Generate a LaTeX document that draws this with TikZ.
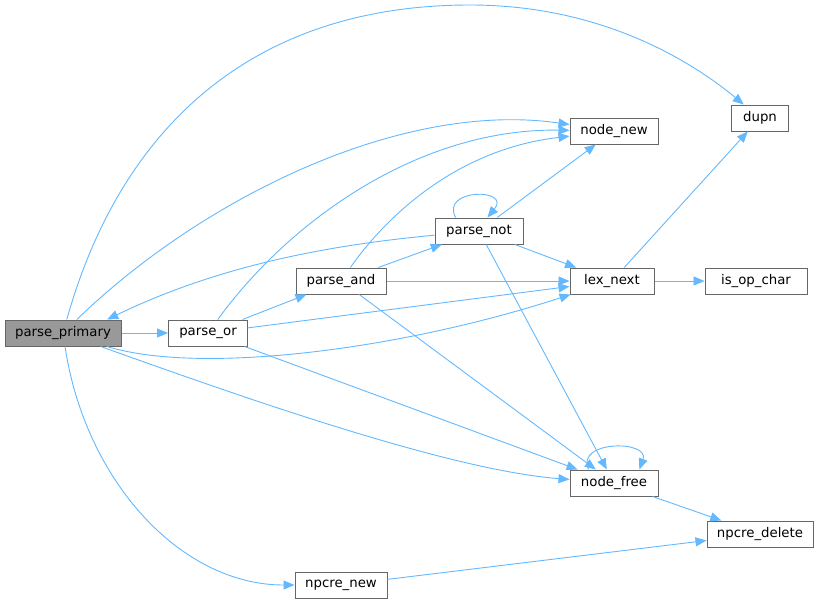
\documentclass[tikz,border=0pt]{standalone}
\usepackage{fontspec}
\setmainfont{DejaVu Sans}
\usetikzlibrary{arrows.meta}
\definecolor{edgeblue}{HTML}{63B8FF}
\definecolor{boxline}{HTML}{666666}
\definecolor{boxfill}{HTML}{999999}
\begin{document}
\begin{tikzpicture}[x=1pt,y=-1pt,
  fn/.style={draw=boxline, fill=white, line width=1pt, minimum height=26,
    inner sep=0pt, font=\fontsize{13.3}{16}\selectfont},
  call/.style={draw=edgeblue, line width=0.9pt,
    -{Triangle[length=11pt,width=9pt]}}]
  \useasboundingbox (0,0) rectangle (819,605);
  % functions
  \node[fn, fill=boxfill, minimum width=116] (pp) at (63,333) {parse\_primary};
  \node[fn, minimum width=79]  (por)      at (208,333) {parse\_or};
  \node[fn, minimum width=90]  (pand)     at (341,281) {parse\_and};
  \node[fn, minimum width=88]  (pnot)     at (479,231) {parse\_not};
  \node[fn, minimum width=88]  (nodenew)  at (614,131) {node\_new};
  \node[fn, minimum width=57]  (dupn)     at (760,118) {dupn};
  \node[fn, minimum width=84]  (lexnext)  at (612,281) {lex\_next};
  \node[fn, minimum width=102] (isop)     at (756,281) {is\_op\_char};
  \node[fn, minimum width=88]  (nodefree) at (614,483) {node\_free};
  \node[fn, minimum width=106] (pdel)     at (760,534) {npcre\_delete};
  \node[fn, minimum width=92]  (pnew)     at (341,585) {npcre\_new};
  % straight calls
  \foreach \a/\b in {pp/por, por/pand, pand/pnot, pand/lexnext, lexnext/isop,
      pnot/nodenew, pnot/lexnext, por/lexnext, lexnext/dupn, por/nodefree,
      pand/nodefree, pnot/nodefree, nodefree/pdel, pnew/pdel}
    \draw[call] (\a) -- (\b);
  % curved calls
  \draw[call] (pp) .. controls (120,130) and (250,5) .. (470,5)
    .. controls (600,5) and (690,60) .. (dupn);
  \draw[call] (pp) .. controls (200,200) and (400,100) .. (nodenew);
  \draw[call] (por) .. controls (290,220) and (420,128) .. (nodenew);
  \draw[call] (pand) .. controls (380,225) and (450,150) .. (nodenew);
  \draw[call] (pnot) .. controls (330,245) and (220,265) .. (pp.17);
  \draw[call] (pp) .. controls (200,375) and (400,350) .. (lexnext);
  \draw[call] (pp) .. controls (250,400) and (450,470) .. (nodefree);
  \draw[call] (pp) .. controls (85,480) and (180,585) .. (pnew);
  % recursion
  \draw[call] (pnot.150) .. controls (440,188) and (512,188) .. (pnot.58);
  \draw[call] (nodefree.152) .. controls (575,440) and (650,440) .. (nodefree.28);
\end{tikzpicture}
\end{document}
